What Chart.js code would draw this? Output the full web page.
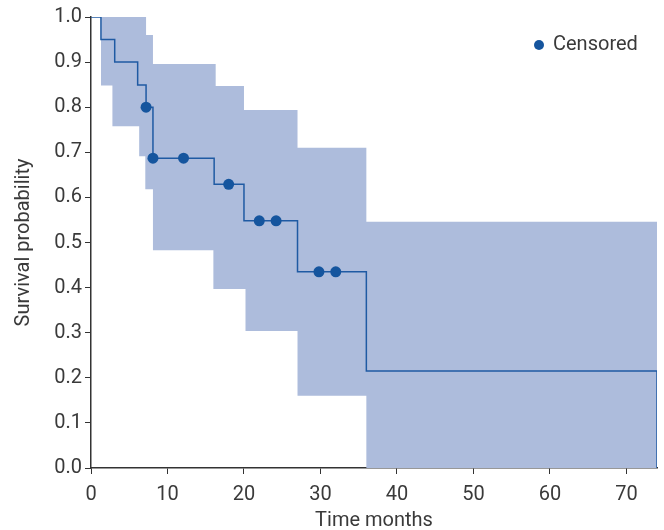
<!DOCTYPE html>
<html>
<head>
<meta charset="utf-8">
<script src="https://cdn.jsdelivr.net/npm/chart.js@4"></script>
<style>
  html, body { margin: 0; padding: 0; background: #fff; }
  #wrap { width: 664px; height: 530px; }
</style>
</head>
<body>
<div id="wrap"><canvas id="kmChart"></canvas></div>
<script>
// Kaplan-Meier estimate (step values hold from each time until the next)
const kmTimes = [0, 1.3, 3.1, 6.1, 7.2, 8.1, 16.1, 20.0, 27.0, 36.0, 74.0, 74.0];
const kmSurv  = [1.0, 0.95, 0.90, 0.849, 0.80, 0.687, 0.629, 0.548, 0.435, 0.215, 0.215, 0.0];

// censored observations
const censTimes = [7.2, 8.1, 12.1, 18.0, 22.0, 24.2, 29.8, 32.0];
const censSurv  = [0.80, 0.687, 0.687, 0.629, 0.548, 0.548, 0.435, 0.435];

// 95% confidence band
const bandTimes = [1.3, 2.8, 6.3, 7.1, 7.2, 8.1, 16.0, 16.3, 20.0, 20.2, 27.0, 36.0, 74.0];
const bandUpper = [1.0, 1.0, 1.0, 1.0, 0.96, 0.896, 0.896, 0.847, 0.794, 0.794, 0.710, 0.546, 0.546];
const bandLower = [0.848, 0.758, 0.691, 0.618, 0.618, 0.483, 0.397, 0.397, 0.397, 0.304, 0.160, 0.0, 0.0];

const xTicks = [0, 10, 20, 30, 40, 50, 60, 70];
const yTicks = ['0.0', '0.1', '0.2', '0.3', '0.4', '0.5', '0.6', '0.7', '0.8', '0.9', '1.0'];

const pts = (xs, ys) => xs.map((x, i) => ({ x: x, y: ys[i] }));

const lineBlue = '#1f5aa3';
const dotBlue = '#15559e';
const bandBlue = '#adbcdc';
const txt = '#3a3a3a';
const axisCol = '#333333';
const font = { family: 'Roboto', size: 20 };

// legend drawn inside the plot, top right
const cornerLegend = {
  id: 'cornerLegend',
  afterDraw(chart) {
    const c = chart.ctx;
    const area = chart.chartArea;
    const ds = chart.data.datasets[0];
    const y = area.top + 28;
    const tx = area.right - 104;
    c.save();
    c.fillStyle = ds.backgroundColor;
    c.beginPath();
    c.arc(tx - 14, y, 5, 0, Math.PI * 2);
    c.fill();
    c.fillStyle = txt;
    c.font = font.size + 'px ' + font.family;
    c.textBaseline = 'middle';
    c.textAlign = 'left';
    c.fillText(ds.label, tx, y);
    c.restore();
  }
};

const ctx = document.getElementById('kmChart').getContext('2d');
new Chart(ctx, {
  type: 'line',
  data: {
    datasets: [
      {
        label: 'Censored',
        data: pts(censTimes, censSurv),
        showLine: false,
        pointRadius: 5.5,
        pointHoverRadius: 5.5,
        pointStyle: 'circle',
        backgroundColor: dotBlue,
        borderColor: dotBlue,
        borderWidth: 0,
        order: 0
      },
      {
        label: 'KM',
        data: pts(kmTimes, kmSurv),
        stepped: 'before',
        borderColor: lineBlue,
        borderWidth: 1.5,
        pointRadius: 0,
        fill: false,
        order: 1
      },
      {
        label: 'upper',
        data: pts(bandTimes, bandUpper),
        stepped: 'before',
        borderWidth: 0,
        borderColor: 'rgba(0,0,0,0)',
        pointRadius: 0,
        backgroundColor: bandBlue,
        fill: '+1',
        order: 2
      },
      {
        label: 'lower',
        data: pts(bandTimes, bandLower),
        stepped: 'before',
        borderWidth: 0,
        borderColor: 'rgba(0,0,0,0)',
        pointRadius: 0,
        fill: false,
        order: 3
      }
    ]
  },
  plugins: [cornerLegend],
  options: {
    responsive: true,
    maintainAspectRatio: false,
    animation: false,
    layout: { padding: { top: 17, right: 7, left: 0, bottom: 0 } },
    plugins: {
      tooltip: { enabled: false },
      legend: { display: false }
    },
    scales: {
      x: {
        type: 'linear',
        min: 0,
        max: 74,
        afterFit: (s) => { s.height = 62; },
        border: { color: axisCol, width: 1.5 },
        grid: { drawOnChartArea: false, drawTicks: true, tickLength: 6, color: axisCol },
        ticks: {
          stepSize: 10,
          includeBounds: false,
          color: txt,
          font: font,
          padding: 9,
          maxRotation: 0,
          callback: (v) => xTicks.includes(v) ? String(v) : ''
        },
        title: { display: true, text: 'Time months', color: txt, font: font, padding: { top: 0, bottom: -3 } }
      },
      y: {
        type: 'linear',
        min: 0,
        max: 1,
        afterFit: (s) => { s.width = 91; },
        border: { color: axisCol, width: 1.5 },
        grid: { drawOnChartArea: false, drawTicks: true, tickLength: 6, color: axisCol },
        ticks: {
          stepSize: 0.1,
          color: txt,
          font: font,
          padding: 3,
          callback: (v) => yTicks[Math.round(v * 10)]
        },
        title: { display: true, text: 'Survival probability', color: txt, font: font, padding: { top: 12, bottom: 4 } }
      }
    }
  }
});
</script>
</body>
</html>
